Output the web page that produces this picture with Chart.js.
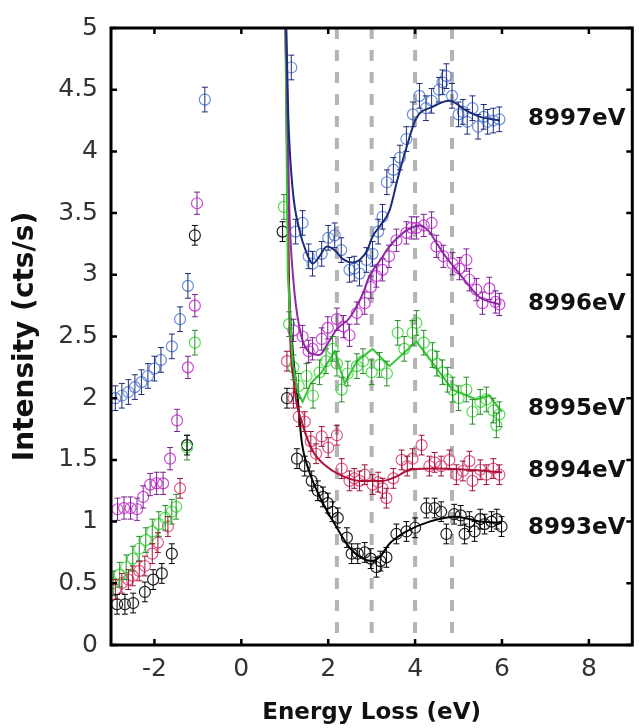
<!DOCTYPE html>
<html>
<head>
<meta charset="utf-8">
<script src="https://cdn.jsdelivr.net/npm/chart.js@4.4.1/dist/chart.umd.min.js"></script>
<style>
  html, body { margin: 0; padding: 0; background: #fff; }
  canvas { display: block; }
</style>
</head>
<body>
<canvas id="chart" width="639" height="728"></canvas>
<script>
// Axis ranges and ticks
const xRange = [-3, 9];
const yRange = [0, 5];
const xTicks = [-2, 0, 2, 4, 6, 8];
const yTicks = [0, 0.5, 1, 1.5, 2, 2.5, 3, 3.5, 4, 4.5, 5];

// Dashed guide lines (eV)
const peakLines = [2.2, 3.0, 4.0, 4.85];

// Series labels and the level each one sits at
const seriesNames = ['8997eV', '8996eV', '8995eV', '8994eV', '8993eV'];
const labelLevels = [4.26, 2.76, 1.91, 1.41, 0.95];
const labelX = 6.6;

// 8997 eV
const pts8997 = [[-2.9,2.0],[-2.75,2.02],[-2.6,2.05],[-2.45,2.09],[-2.3,2.13],[-2.15,2.18],[-2.0,2.24],[-1.85,2.31],[-1.6,2.42],[-1.41,2.64],[-1.23,2.91],[-0.84,4.42],
  [1.15,4.68],[1.25,3.35],[1.41,3.42],[1.55,3.15],[1.64,3.09],[1.85,3.17],[2.0,3.3],[2.15,3.32],[2.3,3.2],[2.49,3.04],[2.6,3.05],[2.72,3.01],[2.88,3.12],[3.02,3.17],[3.15,3.35],[3.25,3.47],[3.35,3.75],[3.5,3.85],[3.65,3.95],[3.8,4.1],[3.95,4.3],[4.1,4.45],[4.25,4.35],[4.38,4.41],[4.55,4.5],[4.63,4.56],[4.72,4.61],[4.85,4.45],[5.0,4.3],[5.1,4.32],[5.2,4.24],[5.32,4.35],[5.45,4.2],[5.58,4.28],[5.67,4.24],[5.8,4.25],[5.94,4.26]];
const fit8997 = [[1.0,5.6],[1.08,4.3],[1.18,3.7],[1.34,3.36],[1.5,3.18],[1.64,3.09],[1.8,3.15],[1.97,3.23],[2.15,3.2],[2.33,3.13],[2.55,3.1],[2.72,3.12],[2.9,3.2],[3.02,3.31],[3.2,3.4],[3.41,3.52],[3.6,3.78],[3.8,4.03],[4.03,4.27],[4.4,4.36],[4.79,4.41],[5.18,4.33],[5.5,4.28],[5.95,4.25]];

// 8996 eV
const pts8996 = [[-2.85,1.1],[-2.7,1.11],[-2.55,1.11],[-2.4,1.1],[-2.26,1.2],[-2.1,1.3],[-1.95,1.31],[-1.8,1.31],[-1.64,1.51],[-1.48,1.82],[-1.23,2.25],[-1.07,2.75],[-1.02,3.58],
  [1.2,2.55],[1.41,2.5],[1.55,2.38],[1.64,2.4],[1.85,2.48],[1.99,2.57],[2.2,2.64],[2.35,2.58],[2.49,2.51],[2.66,2.69],[2.84,2.77],[2.98,2.9],[3.11,2.99],[3.25,3.04],[3.4,3.15],[3.57,3.28],[3.8,3.34],[3.92,3.38],[4.03,3.38],[4.2,3.4],[4.38,3.42],[4.49,3.23],[4.65,3.15],[4.86,3.09],[5.02,3.05],[5.18,3.12],[5.25,2.96],[5.41,2.88],[5.55,2.77],[5.71,2.89],[5.85,2.78],[5.94,2.76]];
const fit8996 = [[1.0,5.6],[1.1,3.6],[1.2,2.95],[1.35,2.55],[1.57,2.37],[1.8,2.35],[2.0,2.45],[2.2,2.56],[2.49,2.65],[2.8,2.85],[2.95,2.99],[3.2,3.12],[3.41,3.23],[3.6,3.3],[3.8,3.36],[4.1,3.4],[4.3,3.36],[4.49,3.26],[4.7,3.15],[4.95,3.04],[5.2,2.93],[5.48,2.82],[5.94,2.76]];

// 8995 eV
const pts8995 = [[-2.95,0.5],[-2.8,0.57],[-2.65,0.63],[-2.5,0.7],[-2.35,0.78],[-2.2,0.85],[-2.05,0.92],[-1.9,0.98],[-1.75,1.03],[-1.6,1.08],[-1.5,1.12],[-1.25,1.6],[-1.07,2.45],
  [0.98,3.55],[1.1,2.6],[1.2,2.25],[1.32,2.1],[1.5,2.18],[1.65,2.02],[1.8,2.21],[1.95,2.3],[2.1,2.4],[2.2,2.28],[2.31,2.07],[2.45,2.2],[2.66,2.26],[2.8,2.3],[3.0,2.21],[3.18,2.27],[3.35,2.2],[3.6,2.53],[3.75,2.4],[3.94,2.53],[4.03,2.61],[4.2,2.45],[4.4,2.35],[4.5,2.28],[4.63,2.21],[4.75,2.15],[4.86,2.07],[5.0,2.0],[5.18,2.07],[5.32,1.89],[5.5,1.97],[5.64,1.99],[5.8,1.9],[5.87,1.78],[5.94,1.87]];
const fit8995 = [[1.0,5.6],[1.07,3.0],[1.18,2.3],[1.3,2.05],[1.41,1.97],[1.6,2.12],[1.85,2.21],[2.15,2.38],[2.38,2.12],[2.66,2.3],[3.02,2.4],[3.41,2.26],[4.03,2.46],[4.33,2.32],[4.86,2.07],[5.41,1.99],[5.71,2.02],[6.0,1.89]];

// 8994 eV
const pts8994 = [[-2.9,0.45],[-2.75,0.5],[-2.6,0.53],[-2.5,0.56],[-2.35,0.6],[-2.22,0.64],[-2.05,0.74],[-1.92,0.83],[-1.69,0.96],[-1.41,1.27],
  [1.05,2.3],[1.2,2.0],[1.32,1.85],[1.46,1.81],[1.6,1.65],[1.72,1.55],[1.85,1.69],[2.0,1.6],[2.2,1.7],[2.31,1.43],[2.49,1.33],[2.6,1.35],[2.72,1.33],[2.84,1.38],[3.02,1.3],[3.15,1.32],[3.25,1.27],[3.34,1.19],[3.5,1.35],[3.69,1.5],[3.82,1.45],[3.94,1.51],[4.15,1.62],[4.33,1.45],[4.45,1.48],[4.6,1.45],[4.79,1.5],[4.95,1.38],[5.1,1.41],[5.25,1.49],[5.32,1.33],[5.5,1.42],[5.64,1.38],[5.8,1.43],[5.94,1.38]];
const fit8994 = [[1.0,5.6],[1.1,2.8],[1.22,2.1],[1.4,1.8],[1.65,1.57],[1.95,1.45],[2.26,1.38],[2.72,1.33],[3.25,1.33],[3.6,1.37],[3.87,1.42],[4.5,1.43],[5.2,1.42],[6.0,1.4]];

// 8993 eV
const pts8993 = [[-2.86,0.33],[-2.68,0.33],[-2.49,0.34],[-2.22,0.43],[-2.03,0.53],[-1.83,0.58],[-1.6,0.74],[-1.25,1.62],[-1.07,3.32],
  [0.95,3.35],[1.05,2.0],[1.28,1.51],[1.46,1.45],[1.62,1.33],[1.76,1.25],[1.88,1.2],[1.99,1.15],[2.1,1.08],[2.22,1.03],[2.43,0.87],[2.54,0.74],[2.68,0.74],[2.84,0.75],[2.98,0.7],[3.11,0.63],[3.2,0.68],[3.34,0.71],[3.57,0.9],[3.8,0.92],[4.0,0.95],[4.26,1.11],[4.45,1.11],[4.6,1.08],[4.72,0.9],[4.9,1.06],[5.05,1.05],[5.14,0.9],[5.25,1.0],[5.37,0.92],[5.5,1.02],[5.6,0.98],[5.76,1.0],[5.88,1.02],[5.99,0.96]];
const fit8993 = [[1.0,5.6],[1.08,3.2],[1.18,2.4],[1.28,2.07],[1.39,1.65],[1.55,1.42],[1.74,1.25],[1.95,1.1],[2.15,0.98],[2.49,0.79],[2.8,0.7],[3.02,0.68],[3.2,0.72],[3.41,0.82],[3.8,0.92],[4.33,1.0],[4.95,1.04],[5.5,1.0],[6.0,0.99]];

// error bar half-heights per series
const errs = [0.1, 0.09, 0.1, 0.08, 0.08];

const toXY = arr => arr.map(p => ({ x: p[0], y: p[1] }));

const series = [
  { pts: pts8997, fit: fit8997, point: '#6a8fdc', line: '#1c2c78', bar: '#1c2c78', smooth: true },
  { pts: pts8996, fit: fit8996, point: '#d048d8', line: '#8e2aa6', bar: '#7a2090', smooth: true },
  { pts: pts8995, fit: fit8995, point: '#4ee04e', line: '#36c836', bar: '#2a8a2a', smooth: false },
  { pts: pts8994, fit: fit8994, point: '#e2588a', line: '#b01238', bar: '#a01030', smooth: true },
  { pts: pts8993, fit: fit8993, point: '#222222', line: '#000000', bar: '#000000', smooth: true }
];

const datasets = [];
series.forEach((s, i) => {
  datasets.push({
    data: toXY(s.pts),
    showLine: false,
    pointStyle: 'circle',
    pointRadius: 5.5,
    pointBorderWidth: 1.2,
    borderColor: s.point,
    backgroundColor: 'rgba(0,0,0,0)',
    errBar: errs[i],
    errColor: s.bar,
    order: 2
  });
  datasets.push({
    data: toXY(s.fit),
    showLine: true,
    pointRadius: 0,
    borderColor: s.line,
    borderWidth: 2,
    cubicInterpolationMode: s.smooth ? 'monotone' : 'default',
    tension: 0,
    order: 1
  });
});

// dashed guides behind the data
const guidePlugin = {
  id: 'guides',
  beforeDatasetsDraw(chart) {
    const { ctx, chartArea: a, scales: { x } } = chart;
    ctx.save();
    ctx.strokeStyle = '#b4b4b4';
    ctx.lineWidth = 4;
    ctx.setLineDash([11, 11]);
    peakLines.forEach(v => {
      const px = x.getPixelForValue(v);
      ctx.beginPath();
      ctx.moveTo(px, a.top);
      ctx.lineTo(px, a.bottom);
      ctx.stroke();
    });
    ctx.restore();
  }
};

// error bars, frame, inward ticks, series labels
const decorPlugin = {
  id: 'decor',
  afterDatasetsDraw(chart) {
    const { ctx, scales: { y } } = chart;
    ctx.save();
    ctx.lineWidth = 1;
    chart.data.datasets.forEach((ds, di) => {
      if (!ds.errBar) return;
      const meta = chart.getDatasetMeta(di);
      ctx.strokeStyle = ds.errColor;
      meta.data.forEach((el, i) => {
        const v = ds.data[i].y;
        const top = y.getPixelForValue(v + ds.errBar);
        const bot = y.getPixelForValue(v - ds.errBar);
        ctx.beginPath();
        ctx.moveTo(el.x, top); ctx.lineTo(el.x, bot);
        ctx.moveTo(el.x - 3, top); ctx.lineTo(el.x + 3, top);
        ctx.moveTo(el.x - 3, bot); ctx.lineTo(el.x + 3, bot);
        ctx.stroke();
      });
    });
    ctx.restore();
  },
  afterDraw(chart) {
    const { ctx, chartArea: a, scales: { x, y } } = chart;
    ctx.save();
    ctx.strokeStyle = '#000';
    ctx.lineWidth = 3;
    ctx.strokeRect(a.left, a.top, a.right - a.left, a.bottom - a.top);
    ctx.lineWidth = 2.5;
    const tl = 6;
    ctx.beginPath();
    x.ticks.forEach(t => {
      const px = x.getPixelForValue(t.value);
      ctx.moveTo(px, a.bottom); ctx.lineTo(px, a.bottom - tl);
      ctx.moveTo(px, a.top); ctx.lineTo(px, a.top + tl);
    });
    y.ticks.forEach(t => {
      const py = y.getPixelForValue(t.value);
      ctx.moveTo(a.left, py); ctx.lineTo(a.left + tl, py);
      ctx.moveTo(a.right, py); ctx.lineTo(a.right - tl, py);
    });
    ctx.stroke();

    ctx.fillStyle = '#111';
    ctx.font = 'bold 23px "DejaVu Sans"';
    ctx.textAlign = 'left';
    ctx.textBaseline = 'middle';
    seriesNames.forEach((name, i) => {
      ctx.fillText(name, x.getPixelForValue(labelX), y.getPixelForValue(labelLevels[i]));
    });
    ctx.restore();
  }
};

Chart.defaults.font.family = '"DejaVu Sans", sans-serif';

new Chart(document.getElementById('chart'), {
  type: 'scatter',
  data: { datasets },
  options: {
    responsive: false,
    animation: false,
    layout: { padding: { left: 0, right: 6, top: 23, bottom: 0 } },
    plugins: { legend: { display: false }, tooltip: { enabled: false } },
    scales: {
      x: {
        type: 'linear',
        min: xRange[0],
        max: xRange[1],
        afterBuildTicks: s => { s.ticks = xTicks.map(v => ({ value: v })); },
        afterFit: s => { s.height = 83; },
        grid: { display: false, drawTicks: false },
        border: { display: false },
        ticks: { padding: 9, color: '#333', font: { size: 25 }, callback: v => String(v) },
        title: { display: true, text: 'Energy Loss (eV)', color: '#111', font: { size: 23, weight: 'bold' }, padding: { top: 0, bottom: 1 } }
      },
      y: {
        type: 'linear',
        min: yRange[0],
        max: yRange[1],
        afterBuildTicks: s => { s.ticks = yTicks.map(v => ({ value: v })); },
        afterFit: s => { s.width = 111; },
        grid: { display: false, drawTicks: false },
        border: { display: false },
        ticks: { padding: 13, color: '#333', font: { size: 25 }, callback: v => String(v) },
        title: { display: true, text: 'Intensity (cts/s)', color: '#111', font: { size: 28, weight: 'bold' }, padding: { top: 9, bottom: 0 } }
      }
    }
  },
  plugins: [guidePlugin, decorPlugin]
});
</script>
</body>
</html>
